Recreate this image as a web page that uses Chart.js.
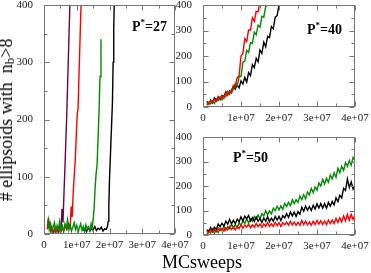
<!DOCTYPE html>
<html>
<head>
<meta charset="utf-8">
<script src="https://cdn.jsdelivr.net/npm/chart.js@4.4.1/dist/chart.umd.min.js"></script>
<style>
  html, body { margin: 0; padding: 0; background: #fff; }
  #fig { position: relative; width: 371px; height: 273px; overflow: hidden;
         font-family: "Liberation Serif", "Times New Roman", serif; color: #000; }
  #fig canvas { position: absolute; }
  .ptag { position: absolute; font-weight: bold; font-size: 14px; line-height: 14px; white-space: nowrap; }
  .ptag .st { position: relative; top: -6px; font-size: 9px; }
  .title { position: absolute; font-size: 18px; line-height: 18px; white-space: nowrap; }
  .title .sb { position: relative; top: 2px; font-size: 13px; }
</style>
</head>
<body>
<div id="fig">
  <canvas id="p27"></canvas>
  <canvas id="p40"></canvas>
  <canvas id="p50"></canvas>
  <div class="ptag" style="left:132px; top:20px;">P<span class="st">*</span>=27</div>
  <div class="ptag" style="left:307px; top:23px;">P<span class="st">*</span>=40</div>
  <div class="ptag" style="left:233px; top:151px;">P<span class="st">*</span>=50</div>
  <div class="title" id="ytitle">#&nbsp;ellipsoids with&nbsp; n<span class="sb">b</span>&gt;8</div>
  <div class="title" id="xtitle">MCsweeps</div>
</div>
<script>
// tick labels (x in MC sweeps, y in counts)
const xTickLabels = ['0', '1e+07', '2e+07', '3e+07', '4e+07'];
const yTickLabels = ['0', '100', '200', '300', '400'];

// ---- P* = 27 (x in units of 1e6 sweeps) ----
const purple27X = [1.2, 1.6, 2.0, 2.4, 2.8, 3.2, 3.6, 4.0, 4.4, 4.8, 5.2, 5.5, 5.8, 6.0, 6.4, 6.9, 7.4, 7.9, 8.1];
const purple27Y = [10, 18, 5, 12, 0, 8, 3, 10, 2, 15, 8, 44, 20, 55, 118, 200, 300, 400, 440];

const red27X = [1.0, 1.4, 1.6, 2.0, 2.5, 3.0, 3.5, 4.0, 4.5, 5.0, 5.5, 6.0, 6.5, 7.0, 7.5, 8.0, 8.3, 8.6, 8.9, 9.2, 9.5, 9.8, 10.1, 10.4, 10.7, 11.0, 11.3, 11.5];
const red27Y = [8, 28, 14, 6, 10, 4, 12, 6, 9, 3, 11, 5, 14, 8, 18, 12, 48, 30, 70, 100, 125, 165, 205, 220, 280, 340, 400, 440];

const green27X = [1.0, 1.3, 1.6, 2.0, 2.4, 2.8, 3.2, 3.6, 4.0, 4.4, 4.8, 5.2, 5.6, 6.0, 6.4, 6.8, 7.2, 7.6, 8.0, 8.4, 8.8, 9.2, 9.6, 10.0, 10.4, 10.8, 11.2, 11.6, 12.0, 12.4, 12.8, 13.2, 13.6, 14.0, 14.4, 14.7, 15.0, 15.3, 15.6, 15.9, 16.2, 16.5, 16.8, 17.1, 17.4];
const green27Y = [15, 25, 8, 18, 5, 12, 20, 3, 15, 8, 22, 6, 14, 4, 18, 10, 25, 7, 16, 5, 12, 20, 8, 15, 3, 11, 18, 6, 13, 4, 16, 9, 12, 6, 18, 10, 25, 45, 80, 105, 120, 165, 215, 275, 340];

const black27X = [12.0, 12.5, 13.0, 13.5, 14.0, 14.5, 15.0, 15.5, 16.0, 16.5, 17.0, 17.5, 18.0, 18.5, 19.0, 19.4, 19.6, 19.8, 20.0, 20.3, 20.6, 20.9, 21.1, 21.3, 21.5];
const black27Y = [6, 10, 4, 12, 5, 9, 7, 13, 6, 10, 8, 12, 5, 9, 8, 14, 22, 50, 95, 140, 185, 230, 300, 360, 420];

// ---- P* = 40 ----
const x40 = [1, 1.5, 2, 2.5, 3, 3.5, 4, 4.5, 5, 5.5, 6, 6.5, 7, 7.5, 8, 8.5, 9, 9.5, 10, 10.5,
             11, 11.5, 12, 12.5, 13, 13.5, 14, 14.5, 15, 15.5, 16, 16.5, 17, 17.5, 18, 18.5, 19, 19.5, 20, 20.5];
const red40Y = [18, 11, 28, 19, 29, 22, 41, 32, 43, 34, 59, 46, 62, 57, 85, 81, 115, 123, 200, 210,
                268, 257, 302, 302, 350, 336, 375, 373, 415, 414];
const green40Y = [6, 18, 12, 25, 14, 28, 25, 40, 28, 44, 40, 61, 49, 70, 68, 93, 82, 118, 120, 175,
                  180, 222, 214, 252, 250, 294, 283, 321, 313, 356, 352, 394, 402];
const black40Y = [22, 12, 24, 16, 36, 27, 39, 29, 45, 41, 59, 49, 63, 56, 81, 70, 87, 75, 102, 90,
                  116, 98, 135, 123, 166, 154, 191, 177, 223, 210, 254, 236, 277, 272, 315, 306, 352, 358, 400, 420];

// ---- P* = 50 ----
const x50 = [1, 1.5, 2, 2.5, 3, 3.5, 4, 4.5, 5, 5.5, 6, 6.5, 7, 7.5, 8, 8.5, 9, 9.5, 10, 10.5,
             11, 11.5, 12, 12.5, 13, 13.5, 14, 14.5, 15, 15.5, 16, 16.5, 17, 17.5, 18, 18.5, 19, 19.5, 20, 20.5,
             21, 21.5, 22, 22.5, 23, 23.5, 24, 24.5, 25, 25.5, 26, 26.5, 27, 27.5, 28, 28.5, 29, 29.5, 30, 30.5,
             31, 31.5, 32, 32.5, 33, 33.5, 34, 34.5, 35, 35.5, 36, 36.5, 37, 37.5, 38, 38.5, 39, 39.5, 40];
const green50Y = [2, 18, 8, 23, 8, 22, 10, 27, 19, 33, 19, 35, 26, 44, 29, 42, 30, 50, 39, 57,
                  47, 66, 48, 66, 56, 76, 65, 81, 66, 87, 78, 99, 82, 98, 86, 109, 99, 117, 102, 119,
                  104, 129, 116, 133, 119, 144, 128, 144, 133, 159, 144, 165, 147, 175, 164, 190, 173, 196, 183, 212,
                  200, 227, 208, 231, 215, 245, 229, 254, 236, 272, 254, 280, 264, 296, 280, 304, 285, 317, 304];
const black50Y = [22, 13, 31, 19, 32, 23, 45, 34, 48, 36, 56, 45, 63, 46, 60, 46, 65, 54, 74, 57,
                  77, 66, 80, 58, 71, 56, 73, 56, 68, 51, 69, 56, 75, 55, 69, 56, 76, 61, 76, 59,
                  79, 70, 87, 72, 94, 78, 93, 76, 95, 85, 113, 97, 118, 101, 116, 100, 121, 106, 127, 110,
                  128, 110, 128, 109, 133, 118, 137, 123, 152, 136, 162, 151, 191, 182, 228, 194, 217, 187, 205];
const red50Y = [17, 9, 22, 11, 21, 13, 28, 18, 27, 16, 30, 21, 35, 22, 32, 21, 36, 26, 42, 27,
                41, 32, 44, 29, 42, 31, 47, 34, 45, 31, 45, 35, 51, 35, 46, 35, 51, 38, 50, 35,
                50, 41, 53, 40, 56, 41, 53, 39, 52, 40, 59, 42, 56, 41, 53, 40, 56, 43, 60, 45,
                58, 43, 57, 42, 61, 47, 61, 47, 68, 51, 70, 53, 78, 58, 84, 60, 84, 63, 84];

// frame with inward major/minor ticks on all four sides
const frameTicks = {
  id: 'frameTicks',
  afterDatasetsDraw(chart) {
    const { ctx, chartArea: a, scales: { x, y } } = chart;
    const L = a.left + 0.5, R = a.right - 0.5, T = a.top + 0.5, B = a.bottom - 0.5;
    ctx.save();
    ctx.strokeStyle = '#777';
    ctx.lineWidth = 1;
    ctx.beginPath();
    const xs = x.ticks.map(t => t.value), ys = y.ticks.map(t => t.value);
    function tickX(v, len) {
      const px = Math.round(x.getPixelForValue(v)) + 0.5;
      ctx.moveTo(px, B); ctx.lineTo(px, B - len);
      ctx.moveTo(px, T); ctx.lineTo(px, T + len);
    }
    function tickY(v, len) {
      const py = Math.round(y.getPixelForValue(v)) + 0.5;
      ctx.moveTo(L, py); ctx.lineTo(L + len, py);
      ctx.moveTo(R, py); ctx.lineTo(R - len, py);
    }
    xs.forEach((v, i) => {
      tickX(v, 5);
      if (i < xs.length - 1) tickX((v + xs[i + 1]) / 2, 3);
    });
    ys.forEach((v, i) => {
      tickY(v, 5);
      if (i < ys.length - 1) tickY((v + ys[i + 1]) / 2, 3);
    });
    ctx.stroke();
    ctx.strokeRect(L, T, R - L, B - T);
    ctx.restore();
  }
};

const tickFont = { family: 'Liberation Serif', size: 11 };

function makePanel(id, box, sets) {
  const cv = document.getElementById(id);
  const cx = box.left - 40, cy = box.top - 5;
  const cw = box.right - cx + 20, ch = box.bottom - cy + 18;
  cv.width = cw; cv.height = ch;
  cv.style.left = cx + 'px'; cv.style.top = cy + 'px';
  cv.style.width = cw + 'px'; cv.style.height = ch + 'px';
  new Chart(cv, {
    type: 'line',
    data: {
      datasets: sets.map((s, i) => ({
        data: s.y.map((v, j) => ({ x: s.x[j] * 1e6, y: v })),
        borderColor: s.color,
        borderWidth: 1.4,
        pointRadius: 0,
        tension: 0,
        fill: false,
        order: i
      }))
    },
    options: {
      responsive: false,
      animation: false,
      events: [],
      layout: { padding: { top: 5, right: 20, left: 0, bottom: 0 } },
      plugins: { legend: { display: false }, tooltip: { enabled: false } },
      scales: {
        x: {
          type: 'linear', min: 0, max: 4e7,
          grid: { display: false }, border: { display: false },
          ticks: {
            stepSize: 1e7, autoSkip: false, maxRotation: 0, padding: -3,
            font: tickFont, color: '#222',
            callback: (v, i) => xTickLabels[i]
          },
          afterFit(s) { s.height = 18; s.paddingLeft = 0; s.paddingRight = 0; }
        },
        y: {
          type: 'linear', min: 0, max: 400,
          grid: { display: false }, border: { display: false },
          ticks: {
            stepSize: 100, autoSkip: false, padding: 3,
            font: tickFont, color: '#222',
            callback: (v, i) => yTickLabels[i]
          },
          afterFit(s) { s.width = 40; s.paddingTop = 0; s.paddingBottom = 0; }
        }
      }
    },
    plugins: [frameTicks]
  });
}

// datasets listed top-most first
makePanel('p27', { left: 44, top: 5, right: 175, bottom: 234 }, [
  { x: green27X, y: green27Y, color: '#008b00' },
  { x: red27X, y: red27Y, color: '#ff0000' },
  { x: purple27X, y: purple27Y, color: '#670748' },
  { x: black27X, y: black27Y, color: '#000000' }
]);
makePanel('p40', { left: 203, top: 5, right: 355, bottom: 107 }, [
  { x: x40, y: red40Y, color: '#ff0000' },
  { x: x40, y: green40Y, color: '#008b00' },
  { x: x40, y: black40Y, color: '#000000' }
]);
makePanel('p50', { left: 203, top: 137, right: 355, bottom: 235 }, [
  { x: x50, y: red50Y, color: '#ff0000' },
  { x: x50, y: black50Y, color: '#000000' },
  { x: x50, y: green50Y, color: '#008b00' }
]);

// axis titles
const yt = document.getElementById('ytitle');
yt.style.left = '7px'; yt.style.top = '120px';
yt.style.transform = 'translate(-50%, -50%) rotate(-90deg)';
const xt = document.getElementById('xtitle');
xt.style.left = '202px'; xt.style.top = '253px';
xt.style.transform = 'translateX(-50%)';
</script>
</body>
</html>
